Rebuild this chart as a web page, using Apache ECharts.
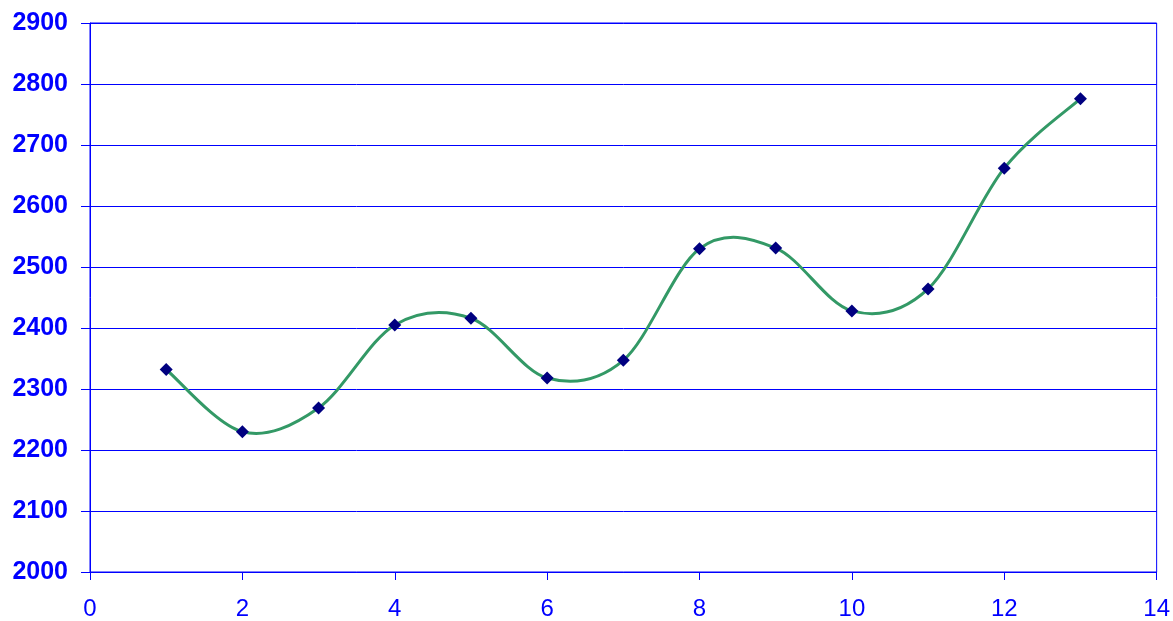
<!DOCTYPE html>
<html><head><meta charset="utf-8">
<script src="https://cdn.jsdelivr.net/npm/echarts@6/dist/echarts.min.js"></script>
<style>html,body{margin:0;padding:0;background:#fff}#c{width:1173px;height:621px}</style>
</head><body><div id="c"></div>
<script>
const xValues = [1,2,3,4,5,6,7,8,9,10,11,12,13];
const yValues = [2332,2230,2269,2405,2416,2318,2347,2530,2531,2428,2464,2662,2776];
const chart = echarts.init(document.getElementById('c'));
const blue = '#0000FF';
const pts = xValues.map((x,i)=>[x,yValues[i]]);
chart.setOption({
  animation:false,
  grid:{left:90,right:16,top:23,bottom:49,show:true,borderColor:blue,borderWidth:1,backgroundColor:'transparent'},
  xAxis:{type:'value',min:0,max:14,interval:2,
    axisLine:{show:true,lineStyle:{color:blue,width:1}},
    axisTick:{show:true,length:8,lineStyle:{color:blue}},
    axisLabel:{color:blue,fontFamily:'Liberation Sans, Arial',fontSize:24,margin:25},
    splitLine:{show:false}},
  yAxis:{type:'value',min:2000,max:2900,interval:100,
    axisLine:{show:true,lineStyle:{color:blue,width:1}},
    axisTick:{show:true,length:9,lineStyle:{color:blue}},
    axisLabel:{color:blue,fontFamily:'Liberation Sans, Arial',fontSize:25,fontWeight:'bold',margin:22,
      formatter:v=>String(v)},
    splitLine:{show:true,lineStyle:{color:blue,width:1}}},
  series:[
    {type:'custom',data:pts,z:2,
     renderItem:function(params,api){
       const i = params.dataIndex, n = pts.length;
       if (i >= n-1) return null;
       const P = k => api.coord(pts[Math.max(0,Math.min(n-1,k))]);
       const p0=P(i-1), p1=P(i), p2=P(i+1), p3=P(i+2);
       return {type:'bezierCurve',
         shape:{x1:p1[0],y1:p1[1],x2:p2[0],y2:p2[1],
           cpx1:p1[0]+(p2[0]-p0[0])/6, cpy1:p1[1]+(p2[1]-p0[1])/6,
           cpx2:p2[0]-(p3[0]-p1[0])/6, cpy2:p2[1]-(p3[1]-p1[1])/6},
         style:{stroke:'#339966',lineWidth:3,fill:null}};
     }},
    {type:'scatter',data:pts,symbol:'diamond',symbolSize:13,itemStyle:{color:'#000080',opacity:1},z:3}
  ]
});
</script></body></html>
